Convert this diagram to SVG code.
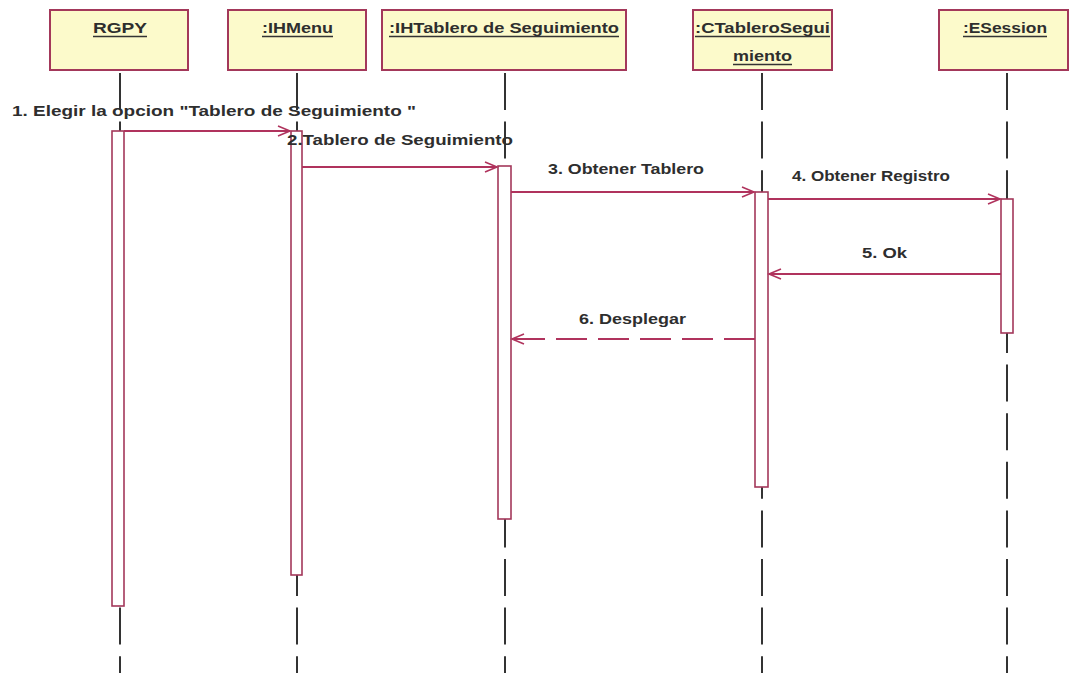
<svg xmlns="http://www.w3.org/2000/svg" width="1073" height="673" viewBox="0 0 1073 673">
<style>
.box{fill:#fcfacb;stroke:#a3385a;stroke-width:2}
.t{font-family:"Liberation Sans",Arial,sans-serif;font-size:15px;font-weight:bold;fill:#2e2e2e}
.u{stroke:#333;stroke-width:1.4}
.life{stroke:#333;stroke-width:2;stroke-dasharray:37 11.6;fill:none}
.act{fill:#fff;stroke:#a3385a;stroke-width:1.6}
.msg{stroke:#b0335d;stroke-width:2;fill:none}
.dash{stroke-dasharray:31 11}
.head{stroke:#b0335d;stroke-width:1.6;fill:none}
</style>
<rect width="1073" height="673" fill="#fff"/>
<g id="lifelines">
<line class="life" x1="120" y1="73" x2="120" y2="673"/>
<line class="life" x1="297" y1="73" x2="297" y2="673"/>
<line class="life" x1="505" y1="73" x2="505" y2="673"/>
<line class="life" x1="762" y1="73" x2="762" y2="673"/>
<line class="life" x1="1007" y1="73" x2="1007" y2="673"/>
</g>
<g id="RGPY">
<rect class="box" x="50" y="10" width="138" height="60"/>
<text class="t" x="93" y="33" textLength="54" lengthAdjust="spacingAndGlyphs">RGPY</text>
<line class="u" x1="93" y1="36.5" x2="147" y2="36.5"/>
<rect class="act" x="112" y="131" width="12" height="475"/>
</g>
<g id="IHMenu">
<rect class="box" x="228" y="10" width="138" height="60"/>
<text class="t" x="262" y="33" textLength="71" lengthAdjust="spacingAndGlyphs">:IHMenu</text>
<line class="u" x1="262" y1="36.5" x2="333" y2="36.5"/>
<rect class="act" x="291" y="131" width="11" height="444"/>
</g>
<g id="IHTablero">
<rect class="box" x="382" y="10" width="244" height="60"/>
<text class="t" x="389" y="33" textLength="230" lengthAdjust="spacingAndGlyphs">:IHTablero de Seguimiento</text>
<line class="u" x1="389" y1="36.5" x2="619" y2="36.5"/>
<rect class="act" x="498" y="166" width="13" height="353"/>
</g>
<g id="CTableroSeguimiento">
<rect class="box" x="693" y="10" width="139" height="60"/>
<text class="t" x="695" y="33" textLength="135" lengthAdjust="spacingAndGlyphs">:CTableroSegui</text>
<line class="u" x1="695" y1="36.5" x2="830" y2="36.5"/>
<text class="t" x="733" y="61" textLength="59" lengthAdjust="spacingAndGlyphs">miento</text>
<line class="u" x1="733" y1="64.5" x2="792" y2="64.5"/>
<rect class="act" x="755" y="192" width="13" height="295"/>
</g>
<g id="ESession">
<rect class="box" x="939" y="10" width="129" height="60"/>
<text class="t" x="963" y="33" textLength="84" lengthAdjust="spacingAndGlyphs">:ESession</text>
<line class="u" x1="963" y1="36.5" x2="1047" y2="36.5"/>
<rect class="act" x="1001" y="199" width="12" height="134"/>
</g>
<g id="connectors">
<line class="msg" x1="124" y1="131" x2="290" y2="131"/>
<polyline class="head" points="278,126 290,131 278,136"/>
<line class="msg" x1="302" y1="167" x2="497" y2="167"/>
<polyline class="head" points="485,162 497,167 485,172"/>
<line class="msg" x1="511" y1="192" x2="754" y2="192"/>
<polyline class="head" points="742,187 754,192 742,197"/>
<line class="msg" x1="768" y1="199" x2="1000" y2="199"/>
<polyline class="head" points="988,194 1000,199 988,204"/>
<line class="msg" x1="1001" y1="274" x2="769" y2="274"/>
<polyline class="head" points="781,269 769,274 781,279"/>
<line class="msg dash" x1="755" y1="339" x2="512" y2="339"/>
<polyline class="head" points="524,334 512,339 524,344"/>
</g>
<g id="labels">
<text class="t" x="12" y="116" textLength="404" lengthAdjust="spacingAndGlyphs">1. Elegir la opcion "Tablero de Seguimiento "</text>
<text class="t" x="287" y="145" textLength="226" lengthAdjust="spacingAndGlyphs">2.Tablero de Seguimiento</text>
<text class="t" x="548" y="174" textLength="156" lengthAdjust="spacingAndGlyphs">3. Obtener Tablero</text>
<text class="t" x="792" y="181" textLength="158" lengthAdjust="spacingAndGlyphs">4. Obtener Registro</text>
<text class="t" x="862" y="258" textLength="45" lengthAdjust="spacingAndGlyphs">5. Ok</text>
<text class="t" x="579" y="324" textLength="107" lengthAdjust="spacingAndGlyphs">6. Desplegar</text>
</g>
</svg>
